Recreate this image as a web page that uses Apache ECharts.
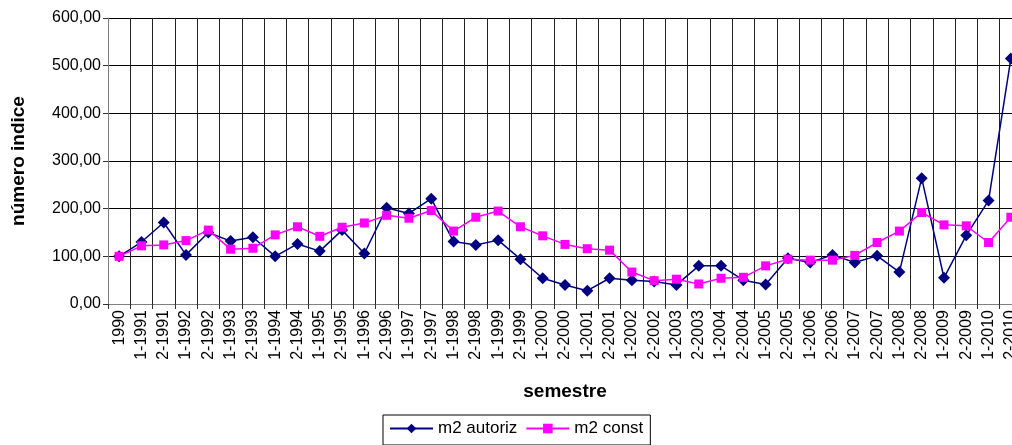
<!DOCTYPE html>
<html>
<head>
<meta charset="utf-8">
<script src="https://cdn.jsdelivr.net/npm/echarts@6/dist/echarts.min.js"></script>
<style>
  html, body { margin: 0; padding: 0; background: #fff; }
  #chart { width: 1012px; height: 445px; }
</style>
</head>
<body>
<div id="chart"></div>
<script>
// semestres 1990 .. 2-2010
const semestres = ['1990'];
for (let y = 1991; y <= 2010; y++) {
    semestres.push('1-' + y, '2-' + y);
}

const m2Autoriz = [100, 130, 171, 103, 150, 132, 140, 100, 126, 111, 155, 106, 202, 190, 221, 131, 124, 134, 94, 54, 40, 28, 54, 50, 47, 40, 80, 80, 50, 41, 96, 87, 103, 87, 101, 67, 264, 55, 144, 217, 515];
const m2Const = [100, 122, 124, 133, 155, 115, 117, 145, 162, 142, 161, 170, 186, 180, 196, 153, 182, 195, 162, 143, 125, 116, 113, 67, 49, 52, 42, 54, 56, 80, 94, 92, 92, 102, 129, 153, 192, 166, 164, 129, 182];

const yTicks = { min: 0, max: 600, interval: 100 };

const chart = echarts.init(document.getElementById('chart'));
const fontFam = '"Liberation Sans", Arial, sans-serif';

chart.setOption({
    animation: false,
    textStyle: { fontFamily: fontFam },
    // the plot runs a little past the right edge, as in the original
    grid: {
        left: 108,
        top: 18,
        right: -10,
        bottom: 141,
        outerBoundsMode: 'none'
    },
    legend: {
        top: 415,
        left: 383,
        itemWidth: 43,
        itemHeight: 12,
        itemGap: 8,
        padding: [5, 7, 8, 6],
        borderColor: '#000',
        borderWidth: 1,
        borderRadius: 0,
        textStyle: { fontSize: 17, color: '#000', fontFamily: fontFam },
        data: ['m2 autoriz', 'm2 const']
    },
    xAxis: {
        type: 'category',
        data: semestres,
        boundaryGap: true,
        name: 'semestre',
        nameLocation: 'middle',
        nameGap: 78,
        nameTextStyle: { fontSize: 19, fontWeight: 'bold', color: '#000' },
        axisLine: { lineStyle: { color: '#808080', width: 1 } },
        axisTick: { show: true, interval: 0, length: 5, lineStyle: { color: '#333' } },
        axisLabel: { interval: 0, rotate: 90, fontSize: 16, color: '#000', margin: 6 },
        splitLine: { show: true, interval: 0, lineStyle: { color: '#222', width: 1 } }
    },
    yAxis: {
        type: 'value',
        min: yTicks.min,
        max: yTicks.max,
        interval: yTicks.interval,
        name: 'número indice',
        nameLocation: 'middle',
        nameGap: 80,
        nameTextStyle: { fontSize: 19, fontWeight: 'bold', color: '#000' },
        axisLine: { show: true, lineStyle: { color: '#808080', width: 1 } },
        axisTick: { show: true, length: 5, lineStyle: { color: '#333' } },
        axisLabel: {
            fontSize: 16,
            color: '#000',
            margin: 7,
            formatter: v => v.toFixed(2).replace('.', ',')
        },
        splitLine: { show: true, lineStyle: { color: '#000', width: 1 } }
    },
    series: [
        {
            name: 'm2 autoriz',
            type: 'line',
            data: m2Autoriz,
            symbol: 'diamond',
            symbolSize: 12,
            color: '#000080',
            lineStyle: { width: 1.5, color: '#000080' },
            itemStyle: { color: '#000080' },
            z: 3
        },
        {
            name: 'm2 const',
            type: 'line',
            data: m2Const,
            symbol: 'rect',
            symbolSize: 9,
            color: '#ff00ff',
            lineStyle: { width: 1.5, color: '#ff00ff' },
            itemStyle: { color: '#ff00ff' },
            z: 4
        }
    ]
});
</script>
</body>
</html>
